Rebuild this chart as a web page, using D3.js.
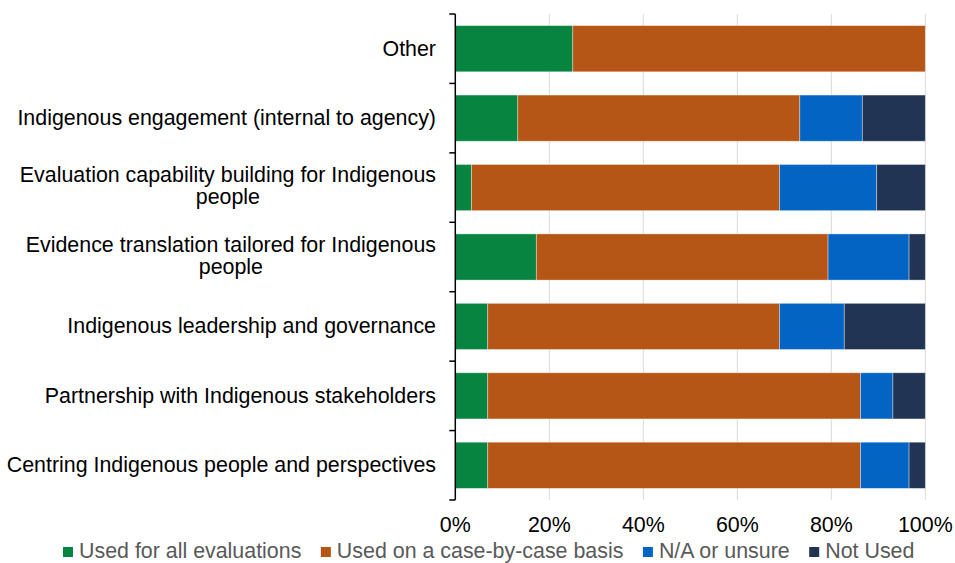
<!DOCTYPE html>
<html>
<head>
<meta charset="utf-8">
<script src="https://cdn.jsdelivr.net/npm/d3@7"></script>
<style>
  body { margin: 0; background: #fff; }
  text { font-family: "Liberation Sans", Arial, sans-serif; }
</style>
</head>
<body>
<svg id="chart" width="955" height="563"></svg>
<script>
const categories = [
  "Other",
  "Indigenous engagement (internal to agency)",
  "Evaluation capability building for Indigenous people",
  "Evidence translation tailored for Indigenous people",
  "Indigenous leadership and governance",
  "Partnership with Indigenous stakeholders",
  "Centring Indigenous people and perspectives"
];
const labelLines = [
  ["Other"],
  ["Indigenous engagement (internal to agency)"],
  ["Evaluation capability building for Indigenous", "people"],
  ["Evidence translation tailored for Indigenous", "people"],
  ["Indigenous leadership and governance"],
  ["Partnership with Indigenous stakeholders"],
  ["Centring Indigenous people and perspectives"]
];
const seriesNames = ["Used for all evaluations", "Used on a case-by-case basis", "N/A or unsure", "Not Used"];
const usedAll   = [25.0, 13.3, 3.45, 17.24, 6.9, 6.9, 6.9];
const caseByCase = [75.0, 60.0, 65.52, 62.07, 62.07, 79.31, 79.31];
const naUnsure  = [0.0, 13.3, 20.69, 17.24, 13.79, 6.9, 10.34];
const notUsed   = [0.0, 13.4, 10.34, 3.45, 17.24, 6.89, 3.45];
const xTicks = [0, 20, 40, 60, 80, 100];
const colors = ["#07843F", "#B55616", "#0464C4", "#213454"];

const rows = categories.map((c, i) => ({
  cat: c,
  [seriesNames[0]]: usedAll[i],
  [seriesNames[1]]: caseByCase[i],
  [seriesNames[2]]: naUnsure[i],
  [seriesNames[3]]: notUsed[i]
}));

const FS = 21.4;
const svg = d3.select("#chart");
const margin = { left: 455.3, right: 955 - 925.3, top: 14, bottom: 563 - 500 };
const W = 955, H = 563;

const x = d3.scaleLinear().domain([0, 100]).range([margin.left, W - margin.right]);
const y = d3.scaleBand().domain(categories).range([margin.top, H - margin.bottom]).paddingInner(0.335).paddingOuter(0.1675);

// gridlines
svg.append("g").selectAll("line").data(xTicks.filter(t => t > 0)).join("line")
  .attr("x1", d => x(d)).attr("x2", d => x(d))
  .attr("y1", margin.top).attr("y2", H - margin.bottom)
  .attr("stroke", "#d9d9d9").attr("stroke-width", 1);

const stacked = d3.stack().keys(seriesNames)(rows);

svg.append("g").selectAll("g").data(stacked).join("g")
  .attr("fill", (d, i) => colors[i])
  .selectAll("rect").data(d => d).join("rect")
  .attr("x", d => x(d[0]))
  .attr("y", d => y(d.data.cat))
  .attr("width", d => Math.max(0, x(d[1]) - x(d[0])))
  .attr("height", y.bandwidth())
  .attr("stroke", d => (d[1] - d[0]) > 0 ? "rgba(255,255,255,0.45)" : "none")
  .attr("stroke-width", 0.8);

// y axis line with ticks at category boundaries
const yAxisG = svg.append("g");
yAxisG.append("line")
  .attr("x1", x(0)).attr("x2", x(0))
  .attr("y1", margin.top).attr("y2", H - margin.bottom)
  .attr("stroke", "#000").attr("stroke-width", 1.5);
const boundaries = d3.range(categories.length + 1).map(i => margin.top + i * ((H - margin.bottom - margin.top) / categories.length));
yAxisG.selectAll("line.tick").data(boundaries).join("line")
  .attr("class", "tick")
  .attr("x1", x(0) - 6).attr("x2", x(0))
  .attr("y1", d => d).attr("y2", d => d)
  .attr("stroke", "#000").attr("stroke-width", 1.5);

// category labels
const labG = svg.append("g");
const RX = 436;
categories.forEach((c, i) => {
  const lines = labelLines[i];
  const cy = y(c) + y.bandwidth() / 2;
  const lh = 22;
  const off = lines.length > 1 ? 5.5 : 7;
  const t = labG.append("text").attr("font-size", FS).attr("fill", "#000");
  const spans = lines.map((ln, j) => {
    const dy = (j - (lines.length - 1) / 2) * lh;
    return t.append("tspan").attr("y", cy + dy + off).text(ln);
  });
  const w0 = spans[0].node().getComputedTextLength();
  spans.forEach((s, j) => {
    if (j === 0) s.attr("x", RX).attr("text-anchor", "end");
    else s.attr("x", RX - w0 / 2).attr("text-anchor", "middle");
  });
});

// x axis labels
svg.append("g").selectAll("text").data(xTicks).join("text")
  .attr("x", d => x(d))
  .attr("y", 532)
  .attr("text-anchor", "middle")
  .attr("font-size", FS)
  .attr("fill", "#000")
  .text(d => d + "%");

// legend
const legend = svg.append("g");
let lx = 63;
seriesNames.forEach((s, i) => {
  legend.append("rect").attr("x", lx).attr("y", 547).attr("width", 10).attr("height", 10).attr("fill", colors[i]);
  const t = legend.append("text").attr("x", lx + 16).attr("y", 557.5)
    .attr("font-size", FS).attr("fill", "#595959").text(s);
  lx += 16 + t.node().getComputedTextLength() + 19.5;
});
</script>
</body>
</html>
